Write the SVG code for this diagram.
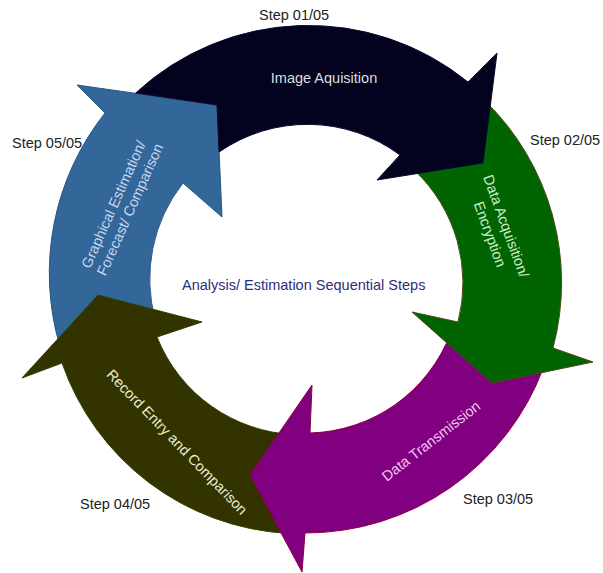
<svg xmlns="http://www.w3.org/2000/svg" width="603" height="573" viewBox="0 0 603 573">
  <style>
    text { font-family: "Liberation Sans", Arial, Helvetica, sans-serif; font-size: 14.5px; }
    .arrow { stroke-width: 1; stroke-linejoin: miter; }
    .step { fill: #222222; }
    .title { fill: #2d2d7d; }
    .label { text-anchor: middle; }
  </style>

  <rect width="603" height="573" fill="#ffffff"/>

  <!-- Ring of five curved arrows; each head overlaps the tail of the next step -->
  <g id="step5-graphical-estimation">
    <path class="arrow" fill="#336699" stroke="#2a5588"
          d="M59.7,345.7 A258,258 0 0 1 105,113 L77,85 L217,105 L222,217 L183,183 A155,155 0 0 0 155.3,320.1 Z"/>
    <text class="label" fill="#c8d8f0" transform="translate(122,206) rotate(-66)">
      <tspan x="0" y="-3.4">Graphical Estimation/</tspan>
      <tspan x="0" y="13.8">Forecast/ Comparison</tspan>
    </text>
  </g>

  <g id="step4-record-entry">
    <path class="arrow" fill="#333300" stroke="#2e4400"
          d="M287.3,533.4 A254,254 0 0 1 62,363 L22,378 L98,295 L202,322 L157,337 A155,155 0 0 0 294.2,434.6 Z"/>
    <text class="label" fill="#ecebd0" transform="translate(177,442) rotate(46)" x="0" y="5">Record Entry and Comparison</text>
  </g>

  <g id="step3-data-transmission">
    <path class="arrow" fill="#800080" stroke="#8b0040"
          d="M543.7,366.9 A254,254 0 0 1 305,533 L302,572 L250,475 L312,385 L310,433 A155,155 0 0 0 450.7,333 Z"/>
    <text class="label" fill="#f2c4f2" transform="translate(431,441) rotate(-38)" x="0" y="5">Data Transmission</text>
  </g>

  <g id="step2-data-acquisition">
    <path class="arrow" fill="#006400" stroke="#4a4a14"
          d="M484.6,100.4 A254,254 0 0 1 553,348 L593,362 L492,383 L412,312 L458,322 A155,155 0 0 0 414.6,170.4 Z"/>
    <text class="label" fill="#cdeecd" transform="translate(498.5,231) rotate(70)">
      <tspan x="0" y="-3.8">Data Acquisition/</tspan>
      <tspan x="0" y="14.2">Encryption</tspan>
    </text>
  </g>

  <g id="step1-image-aquisition">
    <!-- tail follows the edge of the step 5 head -->
    <path class="arrow" fill="#03031f" stroke="#0a0a30"
          d="M135.7,93 L217,105 L219.1,152 A155,155 0 0 1 400,155 L377,180 L483,163 L497,53 L468,82 A254,254 0 0 0 135.7,93 Z"/>
    <text class="label" fill="#dedede" x="324" y="83">Image Aquisition</text>
  </g>

  <!-- Step numbers around the ring -->
  <g id="step-labels">
    <text class="step" x="259" y="20">Step 01/05</text>
    <text class="step" x="530" y="145">Step 02/05</text>
    <text class="step" x="463" y="504">Step 03/05</text>
    <text class="step" x="80" y="509">Step 04/05</text>
    <text class="step" x="12" y="148">Step 05/05</text>
  </g>

  <text id="center-title" class="title" x="182" y="290">Analysis/ Estimation Sequential Steps</text>
</svg>
